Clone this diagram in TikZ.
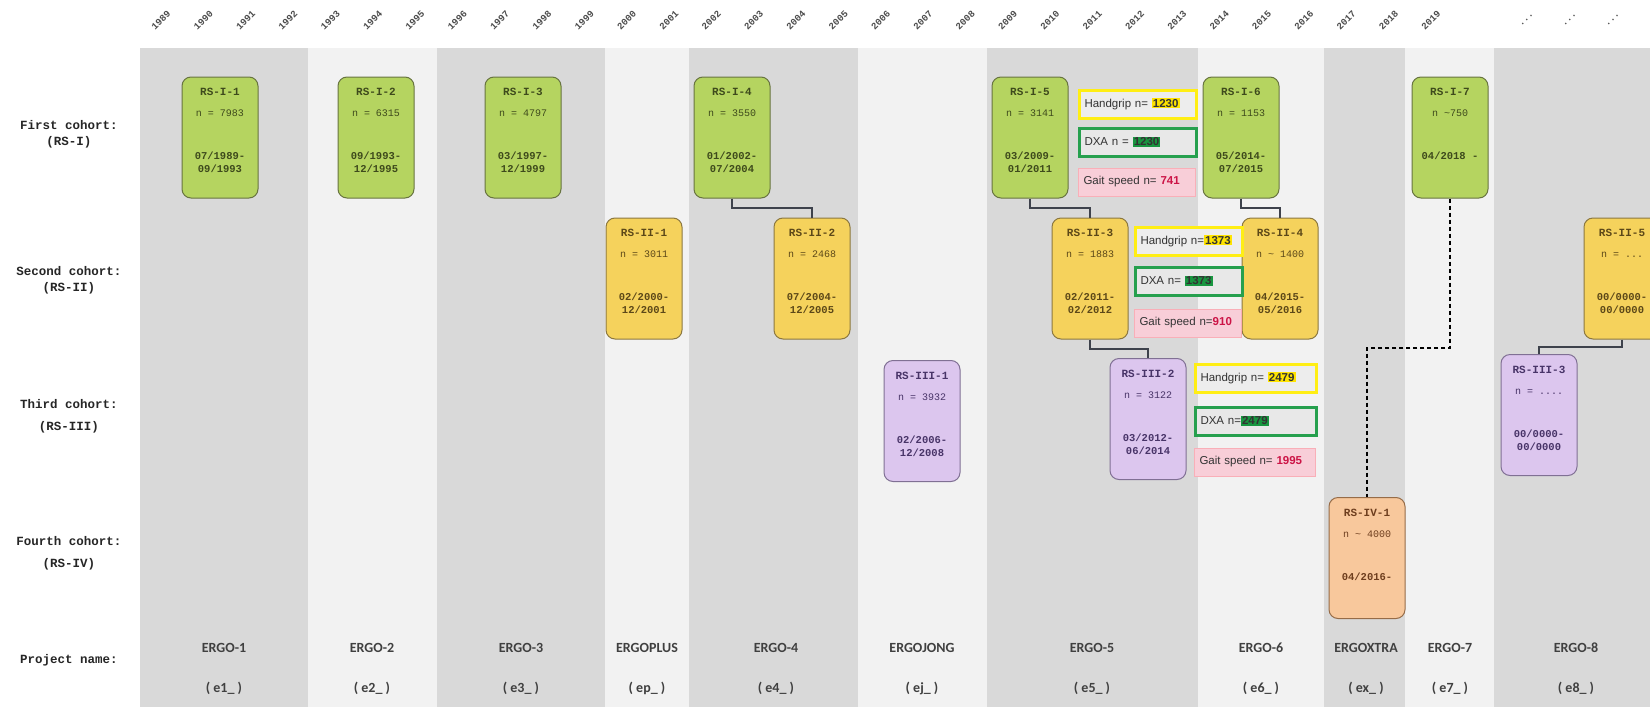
\documentclass[tikz,border=0pt]{standalone}
\usepackage{fontspec}
\setmainfont{Liberation Sans}
\newfontfamily\codefont{Liberation Mono}
\newfontfamily\projfont{Carlito}
\usetikzlibrary{calc}
\setlength{\fboxsep}{1pt}

\definecolor{banddark}{RGB}{217,217,217}
\definecolor{bandlight}{RGB}{242,242,242}
\definecolor{rsone}{RGB}{181,212,96}
\definecolor{rsonedraw}{RGB}{104,116,64}
\definecolor{rsonetext}{RGB}{62,74,28}
\definecolor{rstwo}{RGB}{245,210,92}
\definecolor{rstwodraw}{RGB}{140,120,64}
\definecolor{rstwotext}{RGB}{92,72,24}
\definecolor{rsthree}{RGB}{220,198,238}
\definecolor{rsthreedraw}{RGB}{128,112,148}
\definecolor{rsthreetext}{RGB}{72,52,104}
\definecolor{rsfour}{RGB}{248,200,156}
\definecolor{rsfourdraw}{RGB}{150,108,72}
\definecolor{rsfourtext}{RGB}{110,62,30}
\definecolor{hgframe}{RGB}{255,238,20}
\definecolor{hgmark}{RGB}{255,228,0}
\definecolor{dxaframe}{RGB}{38,160,78}
\definecolor{dxamark}{RGB}{24,150,64}
\definecolor{gaitfill}{RGB}{248,206,216}
\definecolor{gaitmark}{RGB}{204,20,70}
\definecolor{linkgray}{RGB}{62,66,76}

\begin{document}
\begin{tikzpicture}[x=1pt, y=-1pt,
	every node/.style={inner sep=0pt},
	yearlbl/.style={rotate=45, font=\codefont\bfseries\fontsize{9.5}{10}\selectfont, text=black!70},
	rowlbl/.style={align=center, font=\codefont\bfseries\fontsize{12.5}{16}\selectfont, text=black!85},
	projlbl/.style={font=\projfont\bfseries\fontsize{14}{16}\selectfont, text=black!75},
	cohort/.style={draw, line width=1pt, rounded corners=9pt, minimum width=76pt, minimum height=121pt, align=center, text depth=14pt, font=\codefont\bfseries\fontsize{10.5}{13}\selectfont},
	rsonebox/.style={cohort, fill=rsone, draw=rsonedraw, text=rsonetext},
	rstwobox/.style={cohort, fill=rstwo, draw=rstwodraw, text=rstwotext},
	rsthreebox/.style={cohort, fill=rsthree, draw=rsthreedraw, text=rsthreetext},
	rsfourbox/.style={cohort, fill=rsfour, draw=rsfourdraw, text=rsfourtext},
	meas/.style={anchor=west, minimum height=28pt, inner xsep=5pt, align=left, font=\fontsize{11.5}{13}\selectfont, text=black!80},
	hgbox/.style={meas, fill=black!7, draw=hgframe, line width=3pt},
	dxabox/.style={meas, fill=black!9, draw=dxaframe, line width=3pt},
	gaitbox/.style={meas, fill=gaitfill, draw=gaitfill!85!red, line width=1pt},
	link/.style={draw=linkgray, line width=2pt},
	extlink/.style={draw=black, line width=1.5pt, dash pattern=on 4pt off 3pt}]
	\useasboundingbox (0,0) rectangle (1650,707);
	\clip (0,0) rectangle (1650,707);
	\fill[white] (0,0) rectangle (1650,707);
	\foreach \xa/\xb/\c in {140/308/banddark, 308/437/bandlight, 437/605/banddark, 605/689/bandlight, 689/858/banddark, 858/987/bandlight, 987/1198/banddark, 1198/1324/bandlight, 1324/1405/banddark, 1405/1494/bandlight, 1494/1650/banddark}
		\fill[\c] (\xa,48) rectangle (\xb,707);
	\foreach \yr [count=\i from 0] in {1989,...,2019}
		\node[yearlbl] (y\yr) at ({161+42.33*\i},20) {\yr};
	\foreach \x [count=\i] in {1527,1570,1613}
		\node[yearlbl] (ydots\i) at (\x,20) {...};
	\node[rowlbl] (lbl-one) at (69,134) {First cohort:\\(RS-I)};
	\node[rowlbl] (lbl-two) at (69,280) {Second cohort:\\(RS-II)};
	\node[rowlbl] (lbl-three) at (69,416) {Third cohort:\\[6pt](RS-III)};
	\node[rowlbl] (lbl-four) at (69,553) {Fourth cohort:\\[6pt](RS-IV)};
	\node[rowlbl] (lbl-proj) at (69,660) {Project name:};
	\foreach \x/\p/\s in {224/ERGO-1/e1, 372/ERGO-2/e2, 521/ERGO-3/e3, 647/ERGOPLUS/ep, 776/ERGO-4/e4, 922/ERGOJONG/ej, 1092/ERGO-5/e5, 1261/ERGO-6/e6, 1366/ERGOXTRA/ex, 1450/ERGO-7/e7, 1576/ERGO-8/e8} {
		\node[projlbl] (p-\s) at (\x,648) {\p};
		\node[projlbl] (c-\s) at (\x,688) {( \s\_ )};
	}
	\foreach \rsname/\x/\rsn/\rsfrom/\rsto in {RS-I-1/220/{n = 7983}/{07/1989-}/{09/1993}, RS-I-2/376/{n = 6315}/{09/1993-}/{12/1995}, RS-I-3/523/{n = 4797}/{03/1997-}/{12/1999}, RS-I-4/732/{n = 3550}/{01/2002-}/{07/2004}, RS-I-5/1030/{n = 3141}/{03/2009-}/{01/2011}, RS-I-6/1241/{n = 1153}/{05/2014-}/{07/2015}, RS-I-7/1450/{n \textasciitilde750}/{04/2018 -}/{\mbox{}}}
		\node[rsonebox] (\rsname) at (\x,137.5) {{\fontsize{11}{13}\selectfont\rsname}\\[8pt]{\mdseries\fontsize{10}{13}\selectfont\rsn}\\[30pt]\rsfrom\\ \rsto};
	\foreach \rsname/\x/\rsn/\rsfrom/\rsto in {RS-II-1/644/{n = 3011}/{02/2000-}/{12/2001}, RS-II-2/812/{n = 2468}/{07/2004-}/{12/2005}, RS-II-3/1090/{n = 1883}/{02/2011-}/{02/2012}, RS-II-4/1280/{n \textasciitilde{} 1400}/{04/2015-}/{05/2016}, RS-II-5/1622/{n = ...}/{00/0000-}/{00/0000}}
		\node[rstwobox] (\rsname) at (\x,278.5) {{\fontsize{11}{13}\selectfont\rsname}\\[8pt]{\mdseries\fontsize{10}{13}\selectfont\rsn}\\[30pt]\rsfrom\\ \rsto};
	\foreach \rsname/\x/\y/\rsn/\rsfrom/\rsto in {RS-III-1/922/421/{n = 3932}/{02/2006-}/{12/2008}, RS-III-2/1148/419/{n = 3122}/{03/2012-}/{06/2014}, RS-III-3/1539/415/{n = ....}/{00/0000-}/{00/0000}}
		\node[rsthreebox] (\rsname) at (\x,\y) {{\fontsize{11}{13}\selectfont\rsname}\\[8pt]{\mdseries\fontsize{10}{13}\selectfont\rsn}\\[30pt]\rsfrom\\ \rsto};
	\node[rsfourbox] (RS-IV-1) at (1367,558) {{\fontsize{11}{13}\selectfont RS-IV-1}\\[8pt]{\mdseries\fontsize{10}{13}\selectfont n \textasciitilde{} 4000}\\[30pt]04/2016-\\ \mbox{}};
	\node[hgbox, text width=107pt] (hg-one) at (1078,104) {Handgrip n= \colorbox{hgmark}{\textbf{1230}}};
	\node[dxabox, text width=107pt] (dxa-one) at (1078,142) {DXA n = \colorbox{dxamark}{\textbf{1230}}};
	\node[gaitbox, text width=107pt] (gait-one) at (1078,182) {Gait speed n= \textcolor{gaitmark}{\textbf{741}}};
	\node[hgbox, text width=97pt] (hg-two) at (1134,241) {Handgrip n=\colorbox{hgmark}{\textbf{1373}}};
	\node[dxabox, text width=97pt] (dxa-two) at (1134,281) {DXA n= \colorbox{dxamark}{\textbf{1373}}};
	\node[gaitbox, text width=97pt] (gait-two) at (1134,323) {Gait speed n=\textcolor{gaitmark}{\textbf{910}}};
	\node[hgbox, text width=111pt] (hg-three) at (1194,378) {Handgrip n= \colorbox{hgmark}{\textbf{2479}}};
	\node[dxabox, text width=111pt] (dxa-three) at (1194,421) {DXA n=\colorbox{dxamark}{\textbf{2479}}};
	\node[gaitbox, text width=111pt] (gait-three) at (1194,462) {Gait speed n= \textcolor{gaitmark}{\textbf{1995}}};
	\foreach \a/\b in {RS-I-4/RS-II-2, RS-I-5/RS-II-3, RS-II-3/RS-III-2, RS-I-6/RS-II-4, RS-II-5/RS-III-3}
		\draw[link] (\a.south) |- ($(\a.south)!.5!(\b.north)$) -| (\b.north);
	\draw[extlink] (RS-I-7.south) |- ($(RS-I-7.south)!.5!(RS-IV-1.north)$) -| (RS-IV-1.north);
\end{tikzpicture}
\end{document}
